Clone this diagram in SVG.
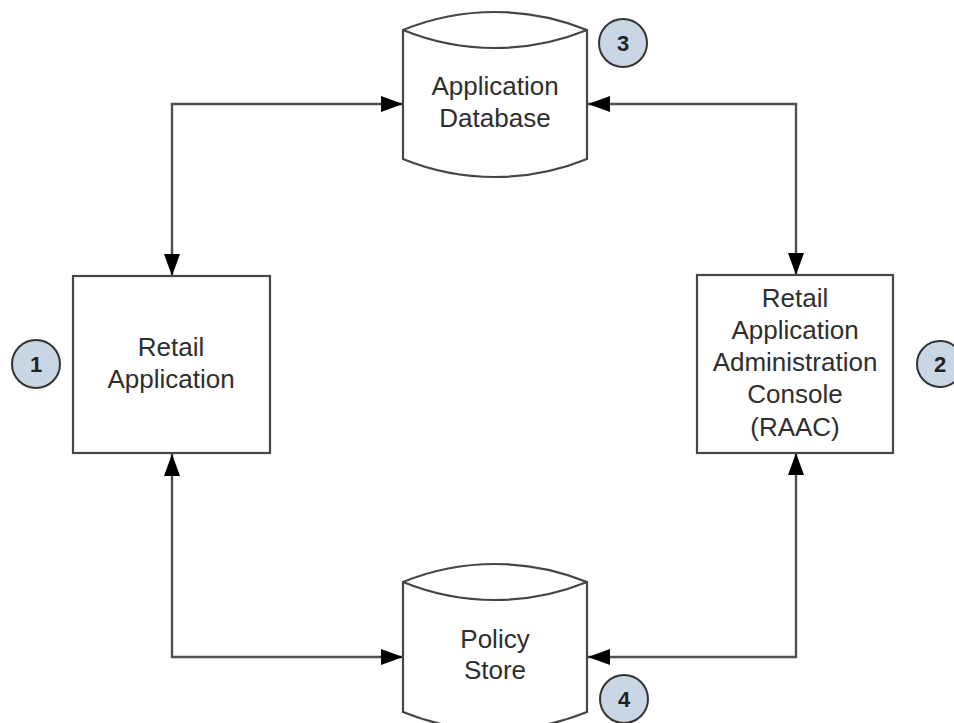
<svg xmlns="http://www.w3.org/2000/svg" width="954" height="723" viewBox="0 0 954 723">
  <style>
    .box { fill: #ffffff; stroke: #454545; stroke-width: 2.2; }
    .lbl { font-family: "Liberation Sans", Arial, sans-serif; font-size: 26px; fill: #2e2e2e; text-anchor: middle; }
    .badge circle { fill: #c9d6e6; stroke: #333333; stroke-width: 2; }
    .badge text { font-family: "Liberation Sans", Arial, sans-serif; font-size: 22px; font-weight: bold; fill: #222222; text-anchor: middle; }
    .conn { fill: none; stroke: #505050; stroke-width: 2.4; marker-start: url(#arrow); marker-end: url(#arrow); }
  </style>
  <defs>
    <marker id="arrow" markerUnits="userSpaceOnUse" viewBox="0 0 22 16" refX="22" refY="8" markerWidth="22" markerHeight="16" orient="auto-start-reverse">
      <path d="M0,0 L22,8 L0,16 Z" fill="#000000"/>
    </marker>
  </defs>
  <rect width="954" height="723" fill="#ffffff"/>

  <!-- connectors -->
  <g id="connectors">
    <path class="conn" d="M172,276 V104 H403"/>
    <path class="conn" d="M796,275 V104 H588"/>
    <path class="conn" d="M172,454 V657 H403"/>
    <path class="conn" d="M796,453 V657 H588"/>
  </g>

  <!-- Application Database -->
  <g id="app-database">
    <path class="box" d="M403,30 A244,244 0 0 1 587,30 V159 A244,244 0 0 1 403,159 Z"/>
    <path class="box" style="fill:none" d="M403,30 A244,244 0 0 0 587,30"/>
    <text class="lbl" x="495" y="95">Application</text>
    <text class="lbl" x="495" y="127">Database</text>
  </g>

  <!-- Retail Application -->
  <g id="retail-app">
    <rect class="box" x="73" y="276" width="197" height="177"/>
    <text class="lbl" x="171" y="356">Retail</text>
    <text class="lbl" x="171" y="388">Application</text>
  </g>

  <!-- RAAC -->
  <g id="raac">
    <rect class="box" x="697" y="275" width="196" height="178"/>
    <text class="lbl" x="795" y="307">Retail</text>
    <text class="lbl" x="795" y="339">Application</text>
    <text class="lbl" x="795" y="371">Administration</text>
    <text class="lbl" x="795" y="403">Console</text>
    <text class="lbl" x="795" y="436">(RAAC)</text>
  </g>

  <!-- Policy Store -->
  <g id="policy-store">
    <path class="box" d="M403,582 A244,244 0 0 1 587,582 V712 A244,244 0 0 1 403,712 Z"/>
    <path class="box" style="fill:none" d="M403,582 A244,244 0 0 0 587,582"/>
    <text class="lbl" x="495" y="648">Policy</text>
    <text class="lbl" x="495" y="679">Store</text>
  </g>

  <!-- numbered badges -->
  <g id="badge-1" class="badge">
    <circle cx="36" cy="364" r="24"/>
    <text x="36" y="372">1</text>
  </g>
  <g id="badge-2" class="badge">
    <circle cx="940" cy="364" r="23"/>
    <text x="940" y="372">2</text>
  </g>
  <g id="badge-3" class="badge">
    <circle cx="623" cy="43" r="24"/>
    <text x="623" y="51">3</text>
  </g>
  <g id="badge-4" class="badge">
    <circle cx="624" cy="699" r="24"/>
    <text x="624" y="707">4</text>
  </g>
</svg>
